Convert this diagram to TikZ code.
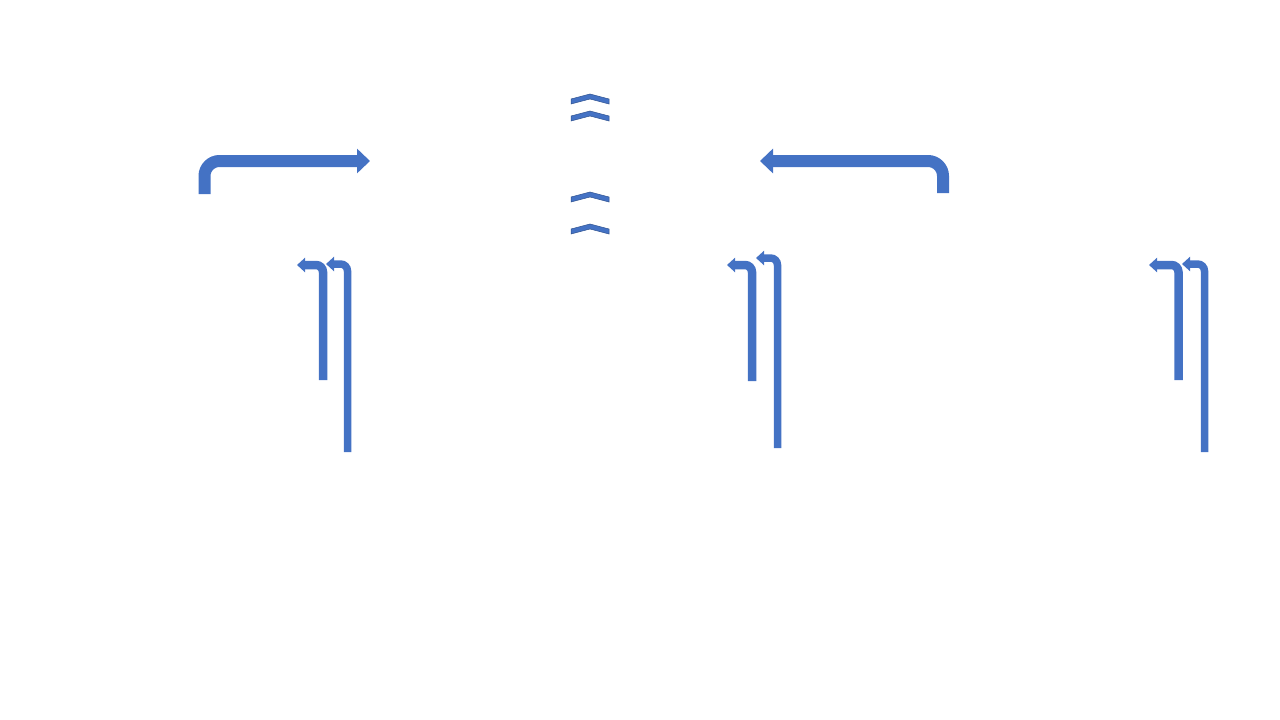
\documentclass[tikz,border=0pt]{standalone}
\usepackage{tikz}
\usetikzlibrary{arrows.meta}
\usepackage{xcolor}
\definecolor{arrblue}{HTML}{4472C4}
\definecolor{arredge}{HTML}{2F528F}

\begin{document}
\begin{tikzpicture}[
  x=1pt, y=-1pt,
  bigarr/.style={draw=arrblue, line width=12pt, rounded corners=15pt,
    -{Triangle[width=24pt, length=13pt]}},
  smallarr/.style={draw=arrblue, line width=#1, rounded corners=7pt,
    -{Triangle[width=14pt, length=8pt]}},
  chev/.style={fill=arrblue, draw=arredge, line width=0.5pt}
]
\useasboundingbox (0,0) rectangle (1280,720);

% bent arrows at the top
\draw[bigarr] (204.5,194) -- (204.5,161) -- (370,161);
\draw[bigarr] (943,193) -- (943,161) -- (760,161);

% chevrons in the middle
\foreach \t in {94,111,192,224}
  \draw[chev] (571,\t+5) -- (590,\t) -- (609,\t+5) -- (609,\t+10)
    -- (590,\t+5) -- (571,\t+10) -- cycle;

% small pairs of up-turn arrows
\draw[smallarr=8.5pt] (323,380) -- (323,265) -- (297,265);
\draw[smallarr=7.5pt] (347.5,452) -- (347.5,264) -- (326,264);

\draw[smallarr=8.5pt] (752,381) -- (752,265) -- (727,265);
\draw[smallarr=7.5pt] (777.5,448) -- (777.5,258) -- (756,258);

\draw[smallarr=8.5pt] (1178.5,380) -- (1178.5,265) -- (1149,265);
\draw[smallarr=7.5pt] (1204.5,452) -- (1204.5,264) -- (1182,264);
\end{tikzpicture}
\end{document}
